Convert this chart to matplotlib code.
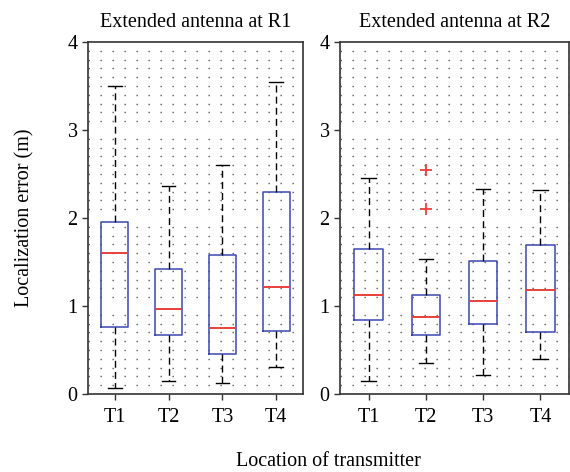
import matplotlib
matplotlib.use("Agg")
import matplotlib.pyplot as plt
from matplotlib.ticker import MultipleLocator

plt.rcParams['font.family'] = ['Liberation Serif', 'DejaVu Serif']

# datos
transmisores = ["T1", "T2", "T3", "T4"]
titulos = ["Extended antenna at R1", "Extended antenna at R2"]

# R1
r1_low = [0.07, 0.15, 0.13, 0.31]
r1_q1 = [0.76, 0.67, 0.46, 0.72]
r1_med = [1.60, 0.97, 0.75, 1.22]
r1_q3 = [1.96, 1.415, 1.575, 2.29]
r1_high = [3.50, 2.36, 2.60, 3.54]
r1_out = [[], [], [], []]

# R2
r2_low = [0.15, 0.35, 0.22, 0.40]
r2_q1 = [0.84, 0.67, 0.79, 0.71]
r2_med = [1.13, 0.88, 1.06, 1.18]
r2_q3 = [1.65, 1.13, 1.51, 1.69]
r2_high = [2.46, 1.53, 2.33, 2.32]
r2_out = [[], [2.54, 2.10], [], []]

paneles = [
    (r1_low, r1_q1, r1_med, r1_q3, r1_high, r1_out),
    (r2_low, r2_q1, r2_med, r2_q3, r2_high, r2_out),
]

fig = plt.figure(figsize=(5.7, 4.72), dpi=100)
ejes = [fig.add_axes([88 / 570, 78 / 472, 215 / 570, 352 / 472]),
        fig.add_axes([340 / 570, 78 / 472, 229 / 570, 352 / 472])]

for ax, titulo, (low, q1, med, q3, high, out) in zip(ejes, titulos, paneles):
    stats = []
    for i in range(len(transmisores)):
        stats.append(dict(whislo=low[i], q1=q1[i], med=med[i], q3=q3[i],
                          whishi=high[i], fliers=out[i]))
    ax.bxp(stats, positions=range(1, 5), widths=0.5, capwidths=0.25,
           boxprops=dict(color="#3b46b0", lw=1.1),
           medianprops=dict(color="#e8403a", lw=1.4),
           whiskerprops=dict(color="black", lw=1.0, linestyle=(0, (5, 3))),
           capprops=dict(color="black", lw=1.0),
           flierprops=dict(marker="+", markeredgecolor="#e8403a",
                           markersize=8, markeredgewidth=1.3))

    ax.set_xlim(0.5, 4.5)
    ax.set_ylim(0, 4)
    ax.set_xticks(range(1, 5))
    ax.set_xticklabels(transmisores)
    ax.set_yticks([0, 1, 2, 3, 4])
    ax.yaxis.set_minor_locator(MultipleLocator(0.1))
    ax.grid(which="minor", axis="y", color="0.35", lw=1.0,
            linestyle=(0, (1, 7.64)))
    ax.tick_params(which="minor", length=0)
    ax.tick_params(which="major", direction="out", length=4, width=1,
                   labelsize=14.5, color="0.2")
    ax.tick_params(axis="x", pad=6)
    for sp in ax.spines.values():
        sp.set_color("0.2")
        sp.set_linewidth(1.2)
    ax.set_axisbelow(True)
    ax.set_title(titulo, fontsize=14.5, pad=11)

ejes[0].set_ylabel("Localization error (m)", fontsize=14.5, labelpad=24)
fig.text(328 / 570, 1 - 462 / 472, "Location of transmitter", ha="center",
         va="center", fontsize=14.5)

fig.savefig("out.png", dpi=100)
